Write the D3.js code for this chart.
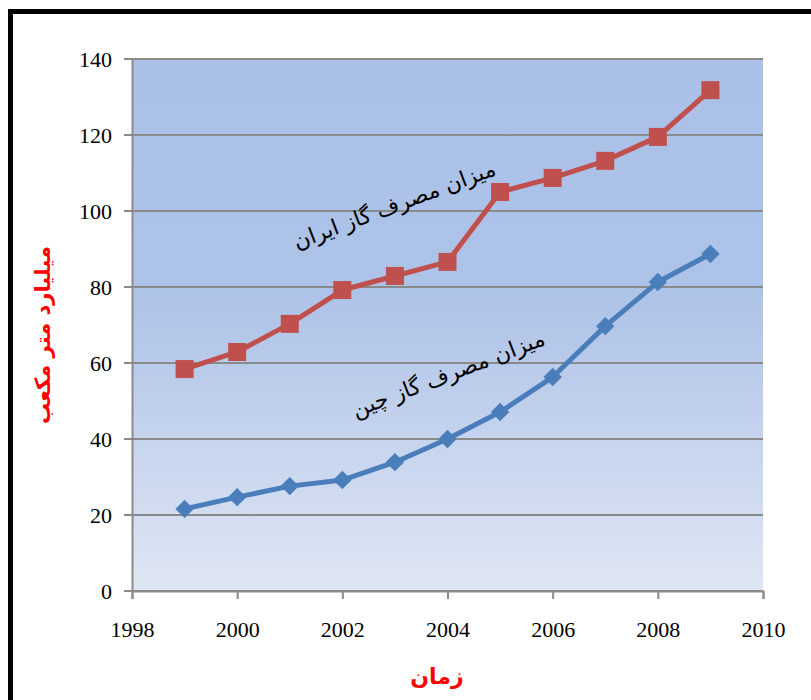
<!DOCTYPE html>
<html>
<head>
<meta charset="utf-8">
<script src="https://cdn.jsdelivr.net/npm/d3@7"></script>
<style>
  body { margin: 0; background: #fff; }
  svg { display: block; }
</style>
</head>
<body>
<div id="chart"></div>
<script>
// Data
const years = [1999, 2000, 2001, 2002, 2003, 2004, 2005, 2006, 2007, 2008, 2009];
const iranGas = [58.4, 62.9, 70.3, 79.2, 82.9, 86.6, 105.0, 108.7, 113.2, 119.5, 131.8];
const chinaGas = [21.6, 24.7, 27.6, 29.2, 33.9, 40.0, 47.1, 56.3, 69.7, 81.3, 88.7];
const xTicks = [1998, 2000, 2002, 2004, 2006, 2008, 2010];
const yTicks = [0, 20, 40, 60, 80, 100, 120, 140];
const iranLabel = "میزان مصرف گاز ایران";
const chinaLabel = "میزان مصرف گاز چین";
const yTitle = "میلیارد متر مکعب";
const xTitle = "زمان";

const serif = "'Liberation Serif', 'Times New Roman', 'DejaVu Serif', serif";

const width = 811, height = 700;
const margin = { left: 132, right: 48, top: 59, bottom: 109 };
const plotW = width - margin.left - margin.right;
const plotH = height - margin.top - margin.bottom;

const svg = d3.select("#chart").append("svg")
    .attr("width", width)
    .attr("height", height);

// outer frame (runs off the right/bottom edge)
svg.append("rect")
    .attr("x", 10.5).attr("y", 11.5)
    .attr("width", 820).attr("height", 720)
    .attr("fill", "none")
    .attr("stroke", "#000")
    .attr("stroke-width", 5);

const defs = svg.append("defs");
const grad = defs.append("linearGradient")
    .attr("id", "bg").attr("x1", 0).attr("y1", 0).attr("x2", 0).attr("y2", 1);
grad.append("stop").attr("offset", "0%").attr("stop-color", "#aac0e7");
grad.append("stop").attr("offset", "45%").attr("stop-color", "#aec3e8");
grad.append("stop").attr("offset", "100%").attr("stop-color", "#dfe6f3");

const x = d3.scaleLinear().domain([1998, 2010]).range([0, plotW]);
const y = d3.scaleLinear().domain([0, 140]).range([plotH, 0]);

const g = svg.append("g").attr("transform", `translate(${margin.left},${margin.top})`);

g.append("rect")
    .attr("width", plotW).attr("height", plotH)
    .attr("fill", "url(#bg)");

// gridlines
g.append("g")
    .selectAll("line")
    .data(yTicks)
    .enter()
    .append("line")
    .attr("x1", -8).attr("x2", plotW)
    .attr("y1", d => y(d)).attr("y2", d => y(d))
    .attr("stroke", "#8a8a8a")
    .attr("stroke-width", 2);

// y axis
const yAxis = g.append("g")
    .call(d3.axisLeft(y).tickValues(yTicks).tickSize(0).tickPadding(20));
yAxis.select(".domain").attr("stroke", "#8a8a8a").attr("stroke-width", 2);
yAxis.selectAll(".tick text")
    .style("font-family", serif)
    .style("font-size", "22px")
    .attr("fill", "#000");

// x axis
const xAxis = g.append("g")
    .attr("transform", `translate(0,${plotH})`)
    .call(d3.axisBottom(x).tickValues(xTicks).tickFormat(d3.format("d")).tickSize(8).tickPadding(22));
xAxis.select(".domain").attr("stroke", "#8a8a8a").attr("stroke-width", 2);
xAxis.selectAll(".tick line").attr("stroke", "#8a8a8a").attr("stroke-width", 2);
xAxis.selectAll(".tick text")
    .style("font-family", serif)
    .style("font-size", "22px")
    .attr("fill", "#000");

const line = d3.line()
    .x(d => x(d[0]))
    .y(d => y(d[1]));

const iranData = years.map((yr, i) => [yr, iranGas[i]]);
const chinaData = years.map((yr, i) => [yr, chinaGas[i]]);

// China series (blue, diamonds)
g.append("path")
    .datum(chinaData)
    .attr("d", line)
    .attr("fill", "none")
    .attr("stroke", "#4a7ebb")
    .attr("stroke-width", 5)
    .attr("stroke-linejoin", "round");

g.append("g")
    .selectAll("rect")
    .data(chinaData)
    .enter()
    .append("rect")
    .attr("x", -6.5).attr("y", -6.5)
    .attr("width", 13).attr("height", 13)
    .attr("transform", d => `translate(${x(d[0])},${y(d[1])}) rotate(45)`)
    .attr("fill", "#4a7ebb");

// Iran series (red, squares)
g.append("path")
    .datum(iranData)
    .attr("d", line)
    .attr("fill", "none")
    .attr("stroke", "#c0504d")
    .attr("stroke-width", 5)
    .attr("stroke-linejoin", "round");

g.append("g")
    .selectAll("rect")
    .data(iranData)
    .enter()
    .append("rect")
    .attr("x", d => x(d[0]) - 9)
    .attr("y", d => y(d[1]) - 9)
    .attr("width", 18).attr("height", 18)
    .attr("fill", "#c0504d");

// series annotations
svg.append("text")
    .attr("transform", "translate(397,212) rotate(-20.5)")
    .attr("text-anchor", "middle")
    .attr("font-family", "'DejaVu Sans', sans-serif")
    .attr("font-size", "22px")
    .attr("fill", "#000")
    .text(iranLabel);

svg.append("text")
    .attr("transform", "translate(451,381) rotate(-21)")
    .attr("text-anchor", "middle")
    .attr("font-family", "'DejaVu Sans', sans-serif")
    .attr("font-size", "22px")
    .attr("fill", "#000")
    .text(chinaLabel);

// axis titles
svg.append("text")
    .attr("transform", "translate(50,335) rotate(-90)")
    .attr("text-anchor", "middle")
    .attr("font-family", "'DejaVu Sans', sans-serif")
    .attr("font-weight", "bold")
    .attr("font-size", "21px")
    .attr("fill", "#ff0000")
    .text(yTitle);

svg.append("text")
    .attr("x", 437).attr("y", 684)
    .attr("text-anchor", "middle")
    .attr("font-family", "'DejaVu Sans', sans-serif")
    .attr("font-weight", "bold")
    .attr("font-size", "22px")
    .attr("fill", "#ff0000")
    .text(xTitle);
</script>
</body>
</html>
